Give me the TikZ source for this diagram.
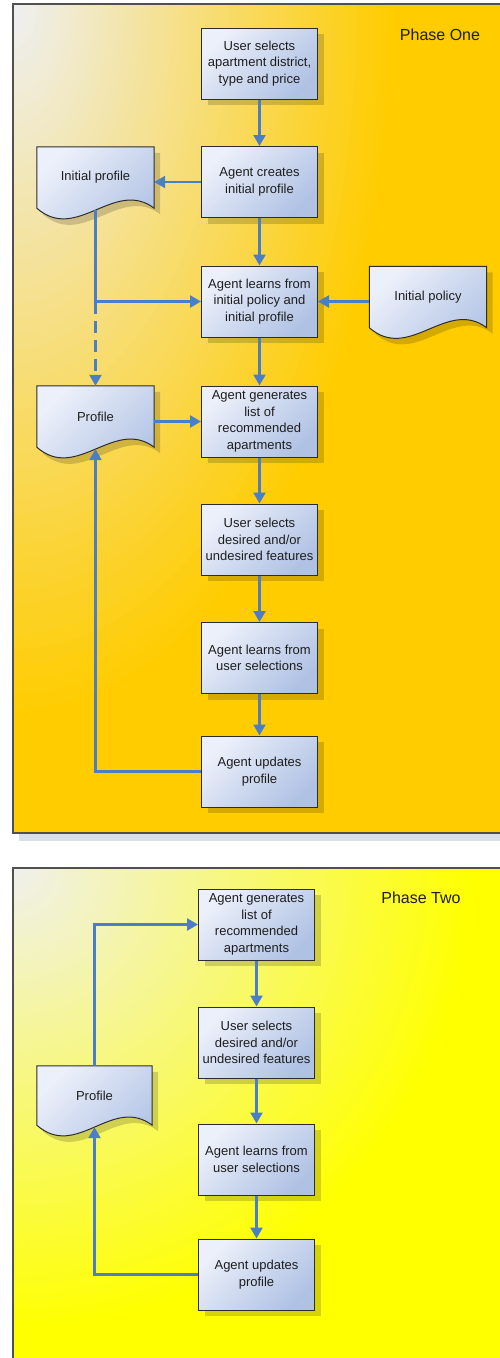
\documentclass[tikz,border=0pt]{standalone}
\usepackage{fontspec}
\setmainfont{Liberation Sans}
\usetikzlibrary{arrows.meta,shadows}

\definecolor{arrowblue}{RGB}{74,126,200}
\definecolor{boxlight}{RGB}{236,240,250}
\definecolor{boxdark}{RGB}{176,194,228}
\definecolor{boxline}{RGB}{45,45,45}
\definecolor{textgray}{RGB}{30,30,30}
\definecolor{framegray}{RGB}{80,80,80}
\definecolor{frameshadow}{RGB}{216,224,236}
\definecolor{onelight}{RGB}{238,240,246}
\definecolor{onegold}{RGB}{255,204,0}
\definecolor{twolight}{RGB}{240,240,240}
\definecolor{twoyellow}{RGB}{255,255,0}

\pgfdeclarelayer{back}
\pgfdeclarelayer{docs}
\pgfsetlayers{back,docs,main}

\tikzset{
  box/.style={draw=boxline, line width=1pt, top color=boxlight, bottom color=boxdark,
    shading angle=45, minimum width=116pt, minimum height=71pt, inner sep=0pt,
    align=center, text=textgray, font=\fontsize{13}{16.5}\selectfont,
    drop shadow={shadow xshift=6pt, shadow yshift=-6pt, fill=black, opacity=0.17}},
  docnode/.style={minimum width=117pt, minimum height=61pt, inner sep=0pt,
    align=center, text=textgray, font=\fontsize{13}{16.5}\selectfont},
  flow/.style={draw=arrowblue, line width=2.4pt, -{Triangle[length=11pt,width=12pt]}},
  plainflow/.style={draw=arrowblue, line width=2.4pt},
  phase/.style={text=textgray, font=\fontsize{16}{18}\selectfont}
}

\begin{document}
\begin{tikzpicture}[x=1pt,y=-1pt]
  \useasboundingbox (0,0) rectangle (500,1358);

  \begin{pgfonlayer}{back}
    \fill[frameshadow] (19,833) rectangle (510,841);
    \begin{scope}
      \clip (13,4) rectangle (510,833);
      \fill[onegold] (13,4) rectangle (510,833);
      \foreach \i in {60,...,1} {
        \pgfmathsetmacro\r{\i/60}
        \pgfmathsetmacro\p{max(0,100*(1-\r/0.8))}
        \fill[onelight!\p!onegold] (13,4) ellipse ({480*\r} and {900*\r});
      }
    \end{scope}
    \draw[framegray, line width=1.1pt] (13,4) rectangle (510,833);
    \begin{scope}
      \clip (13,868) rectangle (510,1370);
      \fill[twoyellow] (13,868) rectangle (510,1370);
      \foreach \i in {60,...,1} {
        \pgfmathsetmacro\r{\i/60}
        \pgfmathsetmacro\p{max(0,100*(1-\r/0.9))}
        \fill[twolight!\p!twoyellow] (13,868) ellipse ({520*\r} and {520*\r});
      }
    \end{scope}
    \draw[framegray, line width=1.1pt] (13,868) rectangle (510,1370);
  \end{pgfonlayer}

  \node[phase] (ph1) at (440,35) {Phase One};
  \node[phase] (ph2) at (421,898) {Phase Two};

  \node[box] (b1) at (259.5,63.5) {User selects\\apartment district,\\type and price};
  \node[box] (b2) at (259.5,182) {Agent creates\\initial profile};
  \node[box] (b3) at (259.5,301.5) {Agent learns from\\initial policy and\\initial profile};
  \node[box] (b4) at (259.5,421.5) {Agent generates\\list of\\recommended\\apartments};
  \node[box] (b5) at (259.5,539.5) {User selects\\desired and/or\\undesired features};
  \node[box] (b6) at (259.5,658) {Agent learns from\\user selections};
  \node[box] (b7) at (259.5,771.5) {Agent updates\\profile};

  \node[docnode] (ip) at (95.5,177.5) {Initial profile};
  \node[docnode] (pol) at (428,297) {Initial policy};
  \node[docnode] (pf) at (95.5,416.5) {Profile};

  \node[box] (c1) at (256.5,924.5) {Agent generates\\list of\\recommended\\apartments};
  \node[box] (c2) at (256.5,1042.5) {User selects\\desired and/or\\undesired features};
  \node[box] (c3) at (256.5,1159.5) {Agent learns from\\user selections};
  \node[box] (c4) at (256.5,1274.5) {Agent updates\\profile};

  \node[docnode, minimum height=59pt, minimum width=115pt] (pf2) at (94.5,1095.5) {Profile};

  \begin{pgfonlayer}{docs}
    \foreach \d in {ip,pol,pf,pf2} {
      \begin{scope}[transform canvas={xshift=6pt,yshift=-6pt}]
        \fill[black, opacity=0.17] (\d.north west) -- (\d.south west)
          .. controls +(40,35) and +(-40,-30) .. (\d.south east) -- (\d.north east) -- cycle;
      \end{scope}
      \draw[draw=boxline, line width=1pt, top color=boxlight, bottom color=boxdark,
        shading angle=45] (\d.north west) -- (\d.south west)
        .. controls +(40,35) and +(-40,-30) .. (\d.south east) -- (\d.north east) -- cycle;
    }
  \end{pgfonlayer}

  \foreach \a/\b in {b1/b2,b2/b3,b3/b4,b4/b5,b5/b6,b6/b7,c1/c2,c2/c3,c3/c4}
    \draw[flow] (\a) -- (\b);

  \draw[flow] (b2.west) -- (b2.west -| ip.east);
  \draw[flow] (b3.east -| pol.west) -- (b3.east);
  \draw[plainflow] ([yshift=-2pt]ip.south) -- (ip.south |- b3.west) coordinate (join);
  \draw[flow] (join) -- (b3.west);
  \draw[flow, dash pattern=on 12pt off 7pt] (join) -- (pf.north);
  \draw[flow] (b4.west -| pf.east) -- (b4.west);
  \draw[flow] (b7.west) -| ([yshift=-2pt]pf.south);

  \draw[flow] (pf2.north) |- (c1.west);
  \draw[flow] (c4.west) -| ([yshift=-2pt]pf2.south);
\end{tikzpicture}
\end{document}
